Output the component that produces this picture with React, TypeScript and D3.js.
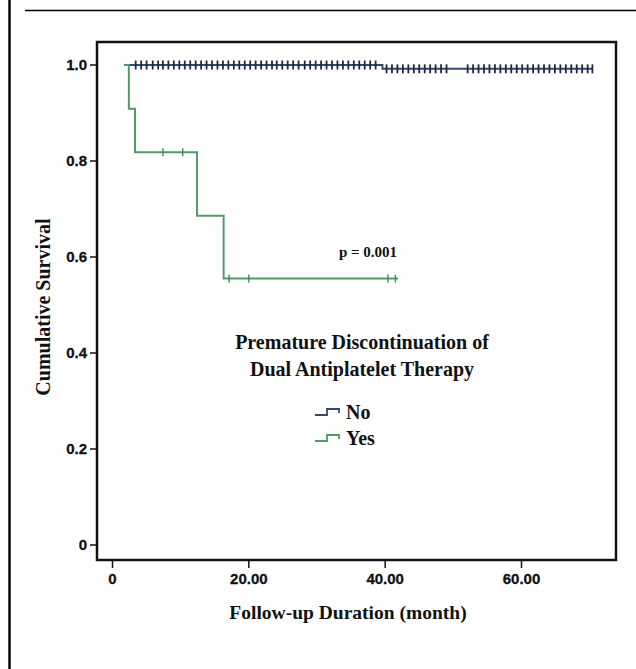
import React from "react";
import * as d3 from "d3";

// ---- Data ----
const xTicks = [0, 20, 40, 60];
const xTickLabels = ["0", "20.00", "40.00", "60.00"];
const yTicks = [0, 0.2, 0.4, 0.6, 0.8, 1.0];
const yTickLabels = ["0", "0.2", "0.4", "0.6", "0.8", "1.0"];

// "No" group step curve (time in months, cumulative survival)
const noTimes = [1.7, 39.6, 70.4];
const noSurv = [1.0, 0.992, 0.992];
const noCensor = [
  3.4, 4.2, 5.0, 5.9, 6.7, 7.4, 8.2, 9.0, 9.8, 10.6, 11.4, 12.2, 13.0, 13.8,
  14.6, 15.4, 16.2, 17.0, 17.8, 18.6, 19.4, 20.2, 21.0, 21.8, 22.6, 23.4, 24.1,
  24.9, 25.7, 26.5, 27.3, 28.2, 29.0, 29.8, 30.6, 31.4, 32.2, 33.0, 33.8, 34.6,
  35.4, 36.2, 37.0, 37.8, 38.6, 40.2, 41.0, 41.8, 42.6, 43.4, 44.2, 45.0, 45.8,
  46.6, 47.4, 48.2, 49.0, 52.1, 52.9, 53.7, 54.5, 55.3, 56.1, 56.9, 57.7, 58.5,
  59.3, 60.1, 60.9, 61.7, 62.5, 63.3, 64.1, 64.9, 65.7, 66.5, 67.3, 68.1, 68.9,
  69.7, 70.4,
];

// "Yes" group step curve
const yesTimes = [1.7, 2.4, 3.3, 12.4, 16.3, 41.9];
const yesSurv = [1.0, 0.909, 0.818, 0.686, 0.555, 0.555];
const yesCensor = [7.4, 10.3, 17.1, 20.0, 40.4, 41.5];

const groupNames = ["No", "Yes"];
const groupColors = ["#3a4866", "#519b6b"];
const censorColors = ["#1e2a44", "#3f8a5a"];

const pLabel = "p = 0.001";
const legendTitle = ["Premature Discontinuation of", "Dual Antiplatelet Therapy"];
const xTitle = "Follow-up Duration (month)";
const yTitle = "Cumulative Survival";

const W = 636;
const H = 669;

function survAt(times: number[], surv: number[], t: number) {
  let s = surv[0];
  for (let i = 0; i < times.length; i++) if (times[i] <= t) s = surv[i];
  return s;
}

export default function App() {
  const x = d3.scaleLinear().domain([0, 60]).range([112.5, 521.5]);
  const y = d3.scaleLinear().domain([0, 1]).range([545, 65]);
  const box = { x0: 97, y0: 42, x1: 616, y1: 560 };

  const line = d3
    .line<[number, number]>()
    .x((d) => x(d[0]))
    .y((d) => y(d[1]))
    .curve(d3.curveStepAfter);

  const groups = [
    { times: noTimes, surv: noSurv, censor: noCensor, h: 4.5, w: 1.8 },
    { times: yesTimes, surv: yesSurv, censor: yesCensor, h: 4, w: 1.4 },
  ];

  const tickFont = "'Liberation Sans Narrow', 'Arial Narrow', 'Liberation Sans', sans-serif";
  const serif = "'Liberation Serif', 'Times New Roman', serif";

  return (
    <div style={{ position: "absolute", left: 0, top: 0 }}>
      <svg width={W} height={H} style={{ display: "block", background: "#fff" }}>
        <rect x={0} y={0} width={W} height={H} fill="#fff" />
        {/* page frame lines */}
        <line x1={9.5} y1={0} x2={9.5} y2={H} stroke="#000" strokeWidth={2.5} />
        <line x1={25} y1={10.5} x2={W} y2={10.5} stroke="#000" strokeWidth={1.5} />

        {/* plot box */}
        <rect
          x={box.x0}
          y={box.y0}
          width={box.x1 - box.x0}
          height={box.y1 - box.y0}
          fill="#fff"
          stroke="#111"
          strokeWidth={2.5}
        />

        {/* y ticks */}
        {yTicks.map((t, i) => (
          <g key={"y" + i}>
            <line x1={box.x0 - 7} x2={box.x0} y1={y(t)} y2={y(t)} stroke="#111" strokeWidth={1.5} />
            <text
              x={box.x0 - 10}
              y={y(t)}
              dy="0.36em"
              textAnchor="end"
              fontFamily={tickFont}
              fontWeight="bold"
              fontSize={15}
              fill="#111"
              stroke="#111"
              strokeWidth={0.3}
            >
              {yTickLabels[i]}
            </text>
          </g>
        ))}

        {/* x ticks */}
        {xTicks.map((t, i) => (
          <g key={"x" + i}>
            <line x1={x(t)} x2={x(t)} y1={box.y1} y2={box.y1 + 8} stroke="#111" strokeWidth={1.5} />
            <text
              x={x(t)}
              y={box.y1 + 19}
              dy="0.36em"
              textAnchor="middle"
              fontFamily={tickFont}
              fontWeight="bold"
              fontSize={15}
              fill="#111"
              stroke="#111"
              strokeWidth={0.3}
            >
              {xTickLabels[i]}
            </text>
          </g>
        ))}

        {/* curves */}
        {groups.map((g, gi) => (
          <g key={"g" + gi}>
            <path
              d={line(g.times.map((t, i) => [t, g.surv[i]] as [number, number])) || ""}
              fill="none"
              stroke={groupColors[gi]}
              strokeWidth={2}
            />
            {g.censor.map((c, ci) => {
              const s = survAt(g.times, g.surv, c);
              return (
                <line
                  key={ci}
                  x1={x(c)}
                  x2={x(c)}
                  y1={y(s) - g.h}
                  y2={y(s) + g.h}
                  stroke={censorColors[gi]}
                  strokeWidth={g.w}
                />
              );
            })}
          </g>
        ))}

        {/* p value */}
        <text x={368} y={257} textAnchor="middle" fontFamily={serif} fontWeight="bold" fontSize={15} fill="#111">
          {pLabel}
        </text>

        {/* legend */}
        {legendTitle.map((t, i) => (
          <text
            key={"lt" + i}
            x={362}
            y={349 + i * 27}
            textAnchor="middle"
            fontFamily={serif}
            fontWeight="bold"
            fontSize={20}
            fill="#111"
          >
            {t}
          </text>
        ))}
        {groupNames.map((n, i) => {
          const cy = 412 + i * 26;
          return (
            <g key={"lg" + i}>
              <path
                d={`M315,${cy + 3}H327V${cy - 3}H339V${cy + 1}`}
                fill="none"
                stroke={groupColors[i]}
                strokeWidth={1.8}
              />
              <text
                x={346}
                y={cy}
                dy="0.35em"
                fontFamily={serif}
                fontWeight="bold"
                fontSize={20}
                fill="#111"
              >
                {n}
              </text>
            </g>
          );
        })}

        {/* axis titles */}
        <text x={348} y={619} textAnchor="middle" fontFamily={serif} fontWeight="bold" fontSize={19.5} fill="#111">
          {xTitle}
        </text>
        <text
          transform={`translate(50,307) rotate(-90)`}
          textAnchor="middle"
          fontFamily={serif}
          fontWeight="bold"
          fontSize={20}
          fill="#111"
        >
          {yTitle}
        </text>
      </svg>
    </div>
  );
}
